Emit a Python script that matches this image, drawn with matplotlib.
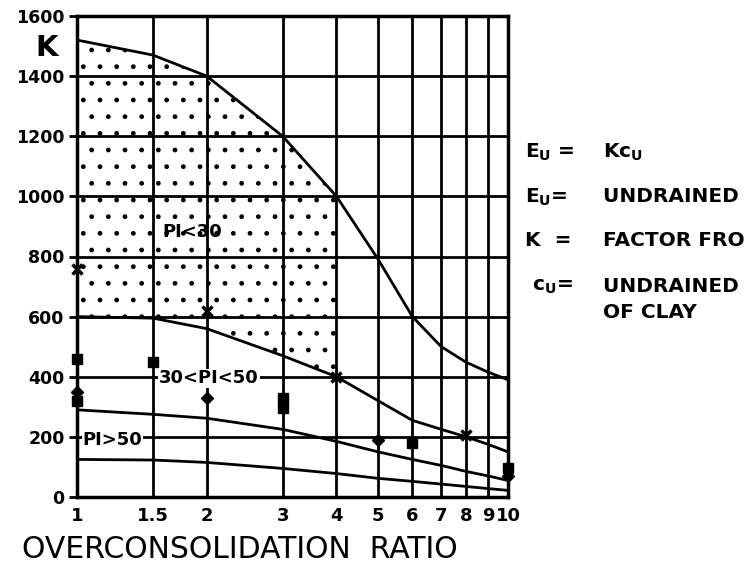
#!/usr/bin/env python3
"""Modulus factor K versus overconsolidation ratio for three plasticity ranges."""

import matplotlib

matplotlib.use("Agg")
import matplotlib.pyplot as plt

# overconsolidation ratio stations
ocr = [1, 1.5, 2, 3, 4, 5, 6, 7, 8, 9, 10]
ocr_ticks = [1, 1.5, 2, 3, 4, 5, 6, 7, 8, 9, 10]
ocr_tick_labels = ["1", "1.5", "2", "3", "4", "5", "6", "7", "8", "9", "10"]
k_ticks = [0, 200, 400, 600, 800, 1000, 1200, 1400, 1600]

# envelope curves (K)
k_pi_lt30 = [1520, 1470, 1400, 1200, 1000, 790, 600, 500, 448, 415, 390]
k_pi_30_50 = [600, 595, 560, 470, 400, 320, 255, 225, 200, 175, 150]
k_pi_gt50 = [290, 275, 262, 225, 185, 150, 125, 105, 85, 70, 55]
k_lower = [125, 123, 115, 95, 78, 62, 52, 43, 35, 28, 22]

# measured points
pts_x_ocr = [1, 2, 4, 8]
pts_x_k = [760, 620, 400, 205]
pts_sq_ocr = [1, 1, 1.5, 3, 3, 6, 10]
pts_sq_k = [460, 320, 450, 330, 295, 180, 95]
pts_dia_ocr = [1, 2, 5, 10]
pts_dia_k = [350, 330, 190, 70]

plt.rcParams["font.family"] = "DejaVu Sans"
plt.rcParams["hatch.linewidth"] = 1.0
plt.rcParams["mathtext.fontset"] = "dejavusans"

fig = plt.figure(figsize=(7.46, 5.71), dpi=100)
W, H = 746, 571
ax = fig.add_axes([77 / W, 1 - 497 / H, (508 - 77) / W, (497 - 16) / H])

ax.set_xscale("log")
ax.set_xlim(1, 10)
ax.set_ylim(0, 1600)

# stippled PI<30 band
n_fill = 5
ax.fill_between(ocr[:n_fill], k_pi_30_50[:n_fill], k_pi_lt30[:n_fill],
                facecolor="none", edgecolor="black", hatch=".", linewidth=0)

for curve in (k_pi_lt30, k_pi_30_50, k_pi_gt50, k_lower):
    ax.plot(ocr, curve, color="black", lw=2.0, solid_capstyle="round")

ax.plot(pts_x_ocr, pts_x_k, "x", color="black", ms=7, mew=2.5, clip_on=False)
ax.plot(pts_sq_ocr, pts_sq_k, "s", color="black", ms=7, clip_on=False)
ax.plot(pts_dia_ocr, pts_dia_k, "D", color="black", ms=6, clip_on=False)

ax.set_xticks(ocr_ticks)
ax.set_xticklabels(ocr_tick_labels, fontsize=13, fontweight="bold")
ax.xaxis.set_minor_locator(matplotlib.ticker.NullLocator())
ax.set_yticks(k_ticks)
ax.set_yticklabels([str(v) for v in k_ticks], fontsize=12.5, fontweight="bold")
ax.tick_params(axis="x", length=0, pad=7)
ax.tick_params(axis="y", direction="out", length=6, width=2, pad=3)
ax.grid(True, which="major", color="black", lw=2.0)
for sp in ax.spines.values():
    sp.set_linewidth(2.5)

ax.text(1.58, 880, "PI<30", fontsize=13, fontweight="bold", va="center")
ax.text(1.55, 395, "30<PI<50", fontsize=13, fontweight="bold", va="center",
        bbox=dict(facecolor="white", edgecolor="none", pad=0.5))
ax.text(1.03, 190, "PI>50", fontsize=13, fontweight="bold", va="center",
        bbox=dict(facecolor="white", edgecolor="none", pad=0.5))

fig.text(47 / W, 1 - 48 / H, "K", fontsize=21, fontweight="bold",
         ha="center", va="center")
fig.text(240 / W, 1 - 549 / H, "OVERCONSOLIDATION  RATIO", fontsize=21.5,
         ha="center", va="center")

# definitions at the right
left_col, right_col = 525 / W, 603 / W
defs = [
    (152, r"$\mathbf{E_U}$ =", r"Kc$\mathbf{_U}$"),
    (197, r"$\mathbf{E_U}$=", "UNDRAINED MODULUS"),
    (240, "K  =", "FACTOR FROM CHART"),
    (287, r" $\mathbf{c_U}$=", "UNDRAINED SHEAR STRENGTH"),
    (313, "", "OF CLAY"),
]
for y, lhs, rhs in defs:
    if lhs:
        fig.text(left_col, 1 - y / H, lhs, fontsize=14.5, fontweight="bold",
                 va="center")
    fig.text(right_col, 1 - y / H, rhs, fontsize=14.5, fontweight="bold",
             va="center")

fig.savefig("out.png", dpi=100)
